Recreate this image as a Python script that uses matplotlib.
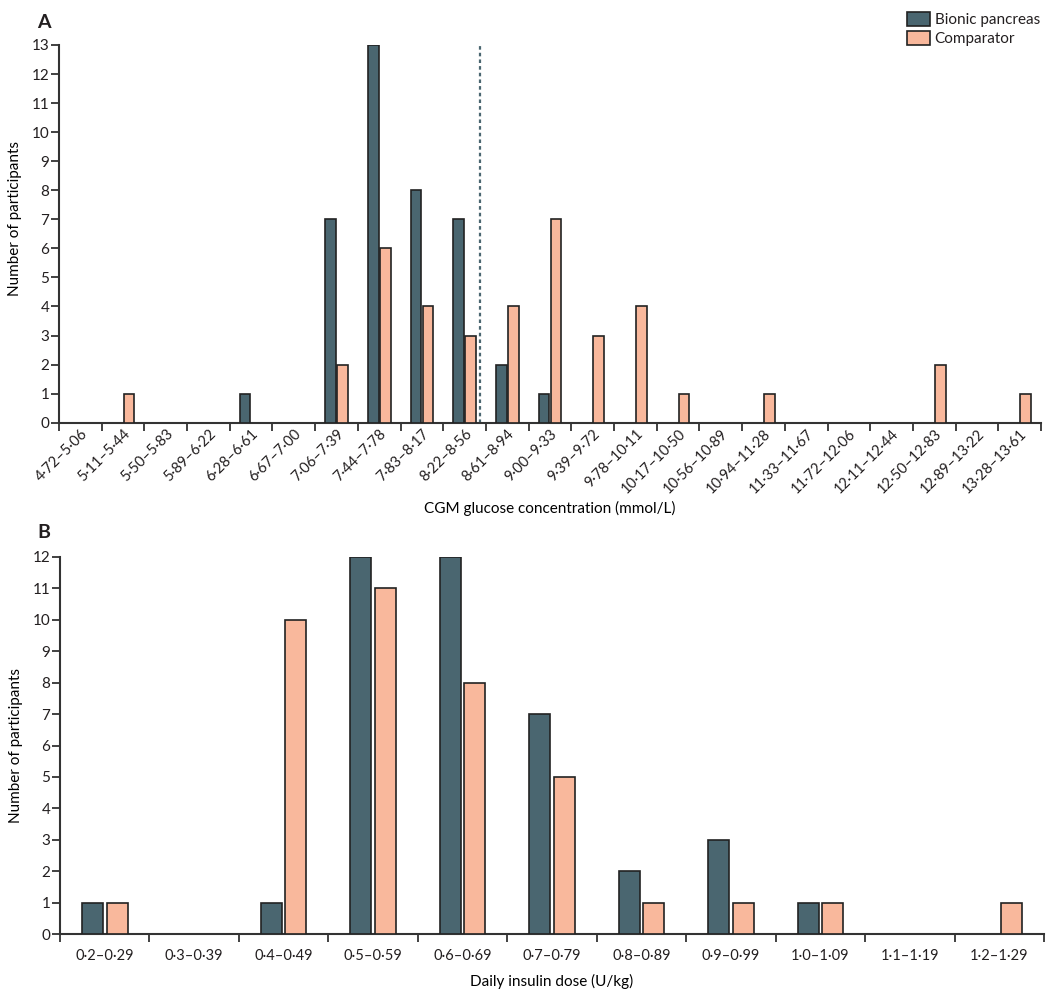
import numpy as np
import matplotlib
matplotlib.use("Agg")
import matplotlib.pyplot as plt
from matplotlib.patches import Patch

plt.rcParams['font.family'] = ['Liberation Sans Narrow', 'Lato', 'DejaVu Sans']
plt.rcParams['font.size'] = 10
plt.rcParams['text.color'] = '#231f20'
plt.rcParams['xtick.color'] = '#231f20'
plt.rcParams['ytick.color'] = '#231f20'

# panel A: mean CGM glucose
glucose_bins = ['4·72–5·06', '5·11–5·44', '5·50–5·83', '5·89–6·22', '6·28–6·61',
                '6·67–7·00', '7·06–7·39', '7·44–7·78', '7·83–8·17', '8·22–8·56',
                '8·61–8·94', '9·00–9·33', '9·39–9·72', '9·78–10·11', '10·17–10·50',
                '10·56–10·89', '10·94–11·28', '11·33–11·67', '11·72–12·06',
                '12·11–12·44', '12·50–12·83', '12·89–13·22', '13·28–13·61']
glucose_bionic = [0, 0, 0, 0, 1, 0, 7, 13, 8, 7, 2, 1, 0, 0, 0, 0, 0, 0, 0, 0, 0, 0, 0]
glucose_comp = [0, 1, 0, 0, 0, 0, 2, 6, 4, 3, 4, 7, 3, 4, 1, 0, 1, 0, 0, 0, 2, 0, 1]
glucose_cutoff = 9.86  # position of dashed line, in bin units

# panel B: daily insulin dose
dose_bins = ['0·2–0·29', '0·3–0·39', '0·4–0·49', '0·5–0·59', '0·6–0·69', '0·7–0·79',
             '0·8–0·89', '0·9–0·99', '1·0–1·09', '1·1–1·19', '1·2–1·29']
dose_bionic = [1, 0, 1, 12, 12, 7, 2, 3, 1, 0, 0]
dose_comp = [1, 0, 10, 11, 8, 5, 1, 1, 1, 0, 1]

c_bionic = '#4a6670'
c_comp = '#f9b89c'
c_edge = '#222222'
c_axis = '#333333'


def draw_bars(ax, bionic, comp, width, gap):
    bionic = np.array(bionic)
    comp = np.array(comp)
    x = np.arange(len(bionic)) + 0.5
    mb = bionic > 0
    mc = comp > 0
    ax.bar(x[mb] - width / 2 - gap / 2, bionic[mb], width, color=c_bionic,
           edgecolor=c_edge, linewidth=1.2, zorder=3)
    ax.bar(x[mc] + width / 2 + gap / 2, comp[mc], width, color=c_comp,
           edgecolor=c_edge, linewidth=1.2, zorder=3)
    return x


def style_axis(ax, n, ymax, labels, rot):
    ax.set_xlim(0, n)
    ax.set_ylim(0, ymax)
    ax.set_yticks(range(ymax + 1))
    ax.set_xticks(np.arange(n + 1))
    ax.set_xticklabels([])
    ax.set_xticks(np.arange(n) + 0.5, minor=True)
    if rot:
        ax.set_xticklabels(labels, minor=True, rotation=45, ha='right',
                           rotation_mode='anchor', fontsize=10.5)
        ax.tick_params(axis='x', which='minor', length=0, pad=3)
    else:
        ax.set_xticklabels(labels, minor=True, fontsize=10.5)
        ax.tick_params(axis='x', which='minor', length=0, pad=11)
    ax.tick_params(axis='x', which='major', length=6, width=1.3, color=c_axis)
    ax.tick_params(axis='y', length=6, width=1.3, color=c_axis, labelsize=11,
                   pad=1)
    for s in ['top', 'right']:
        ax.spines[s].set_visible(False)
    for s in ['left', 'bottom']:
        ax.spines[s].set_linewidth(1.5)
        ax.spines[s].set_color(c_axis)


fig = plt.figure(figsize=(10.5, 9.91), dpi=100)

axA = fig.add_axes([59 / 1050, 1 - 422.7 / 991, (1041 - 59) / 1050, (422.7 - 45) / 991])
draw_bars(axA, glucose_bionic, glucose_comp, 0.25, 0.03)
style_axis(axA, len(glucose_bins), 13, glucose_bins, True)
axA.plot([glucose_cutoff, glucose_cutoff], [0, 13], color=c_bionic, lw=1.6,
         linestyle=(0, (1.6, 1.4)), zorder=2)
axA.set_xlabel('CGM glucose concentration (mmol/L)', fontsize=11, labelpad=3)
axA.set_ylabel('Number of participants', fontsize=11)
axA.yaxis.set_label_coords(-0.038, 0.54)

axB = fig.add_axes([60 / 1050, 1 - 934 / 991, (1044 - 60) / 1050, (934 - 557) / 991])
draw_bars(axB, dose_bionic, dose_comp, 0.235, 0.04)
style_axis(axB, len(dose_bins), 12, dose_bins, False)
axB.set_xlabel('Daily insulin dose (U/kg)', fontsize=11, labelpad=8)
axB.set_ylabel('Number of participants', fontsize=11)
axB.yaxis.set_label_coords(-0.038, 0.5)

fig.text(37 / 1050, 1 - 22 / 991, 'A', fontsize=14, fontweight='bold', va='center')
fig.text(37 / 1050, 1 - 533 / 991, 'B', fontsize=14, fontweight='bold', va='center')

handles = [Patch(facecolor=c_bionic, edgecolor=c_edge, linewidth=1.2, label='Bionic pancreas'),
           Patch(facecolor=c_comp, edgecolor=c_edge, linewidth=1.2, label='Comparator')]
fig.legend(handles=handles, loc='upper right', bbox_to_anchor=(1046 / 1050, 1 - 6 / 991),
           frameon=False, fontsize=11, handlelength=1.5, handleheight=1.0,
           handletextpad=0.3, labelspacing=0.25, borderaxespad=0)

fig.savefig('out.png', dpi=100)
